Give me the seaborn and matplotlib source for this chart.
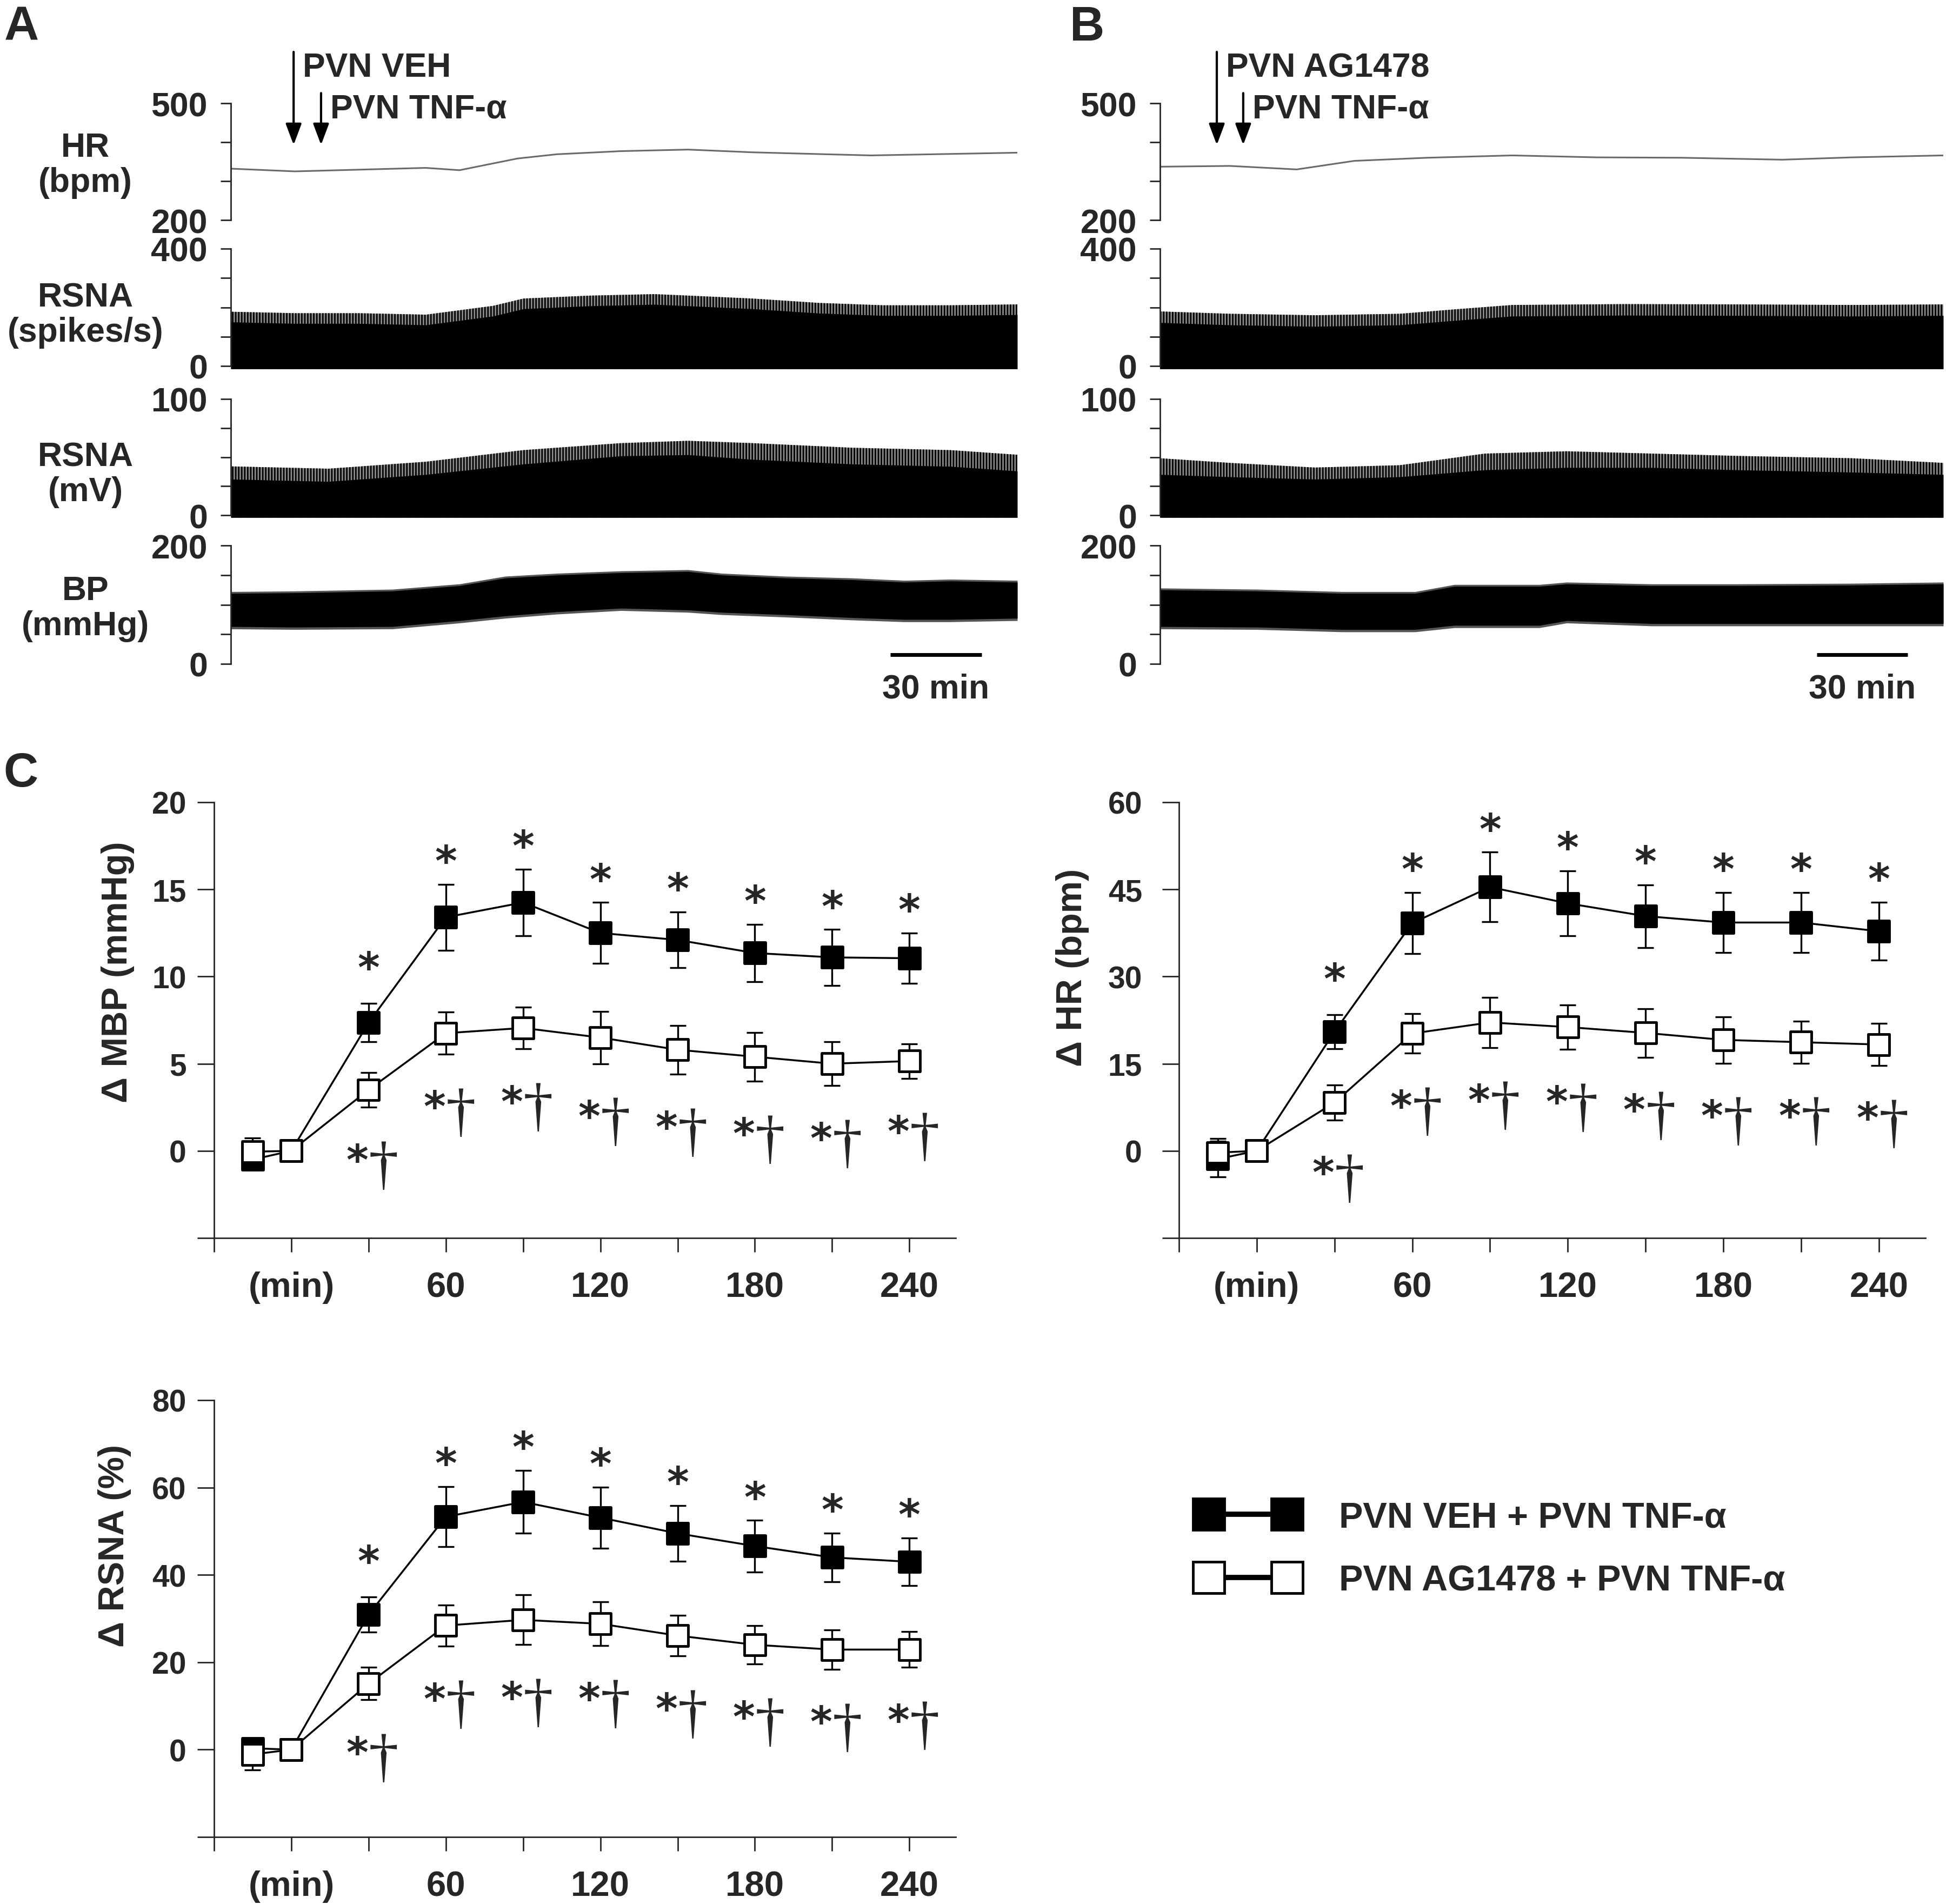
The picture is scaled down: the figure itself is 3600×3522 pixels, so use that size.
"""
PVN TNF-alpha: raw recordings (A, B) and group responses (C)
"""

import numpy as np
import pandas as pd
import seaborn as sns
import matplotlib.pyplot as plt
from matplotlib.lines import Line2D
from matplotlib.transforms import ScaledTranslation

# ------------------------------
# Panel A recording (PVN VEH -> PVN TNF-a)
# ------------------------------
a_hr_time = [0, 21, 64, 75, 94, 107, 128, 150, 171, 195, 210, 258]
a_hr = [332, 325, 334, 328, 358, 369, 377, 381, 374, 369, 366, 373]
a_rsna_time = [0, 21, 42, 64, 86, 96, 118, 139, 150, 171, 193, 214, 236, 258]
a_rsna_core = [150, 145, 145, 140, 170, 195, 205, 210, 205, 195, 180, 172, 172, 175]
a_rsna_peak = [185, 180, 180, 175, 205, 230, 240, 245, 240, 230, 215, 207, 207, 210]
a_mv_time = [0, 32, 64, 96, 128, 150, 171, 204, 236, 258]
a_mv_core = [31, 29, 35, 44, 51, 52, 48, 44, 42, 38]
a_mv_peak = [42, 40, 46, 56, 62, 64, 62, 58, 56, 52]
a_bp_time = [0, 21, 53, 75, 90, 107, 128, 150, 161, 182, 204, 221, 236, 258]
a_bp_high = [119, 120, 123, 132, 145, 150, 154, 156, 150, 145, 142, 138, 140, 138]
a_bp_low = [63, 62, 63, 73, 81, 88, 94, 91, 87, 83, 78, 75, 75, 77]
a_inject = [20.6, 29.6]
a_inject_labels = ["PVN VEH", "PVN TNF-α"]

# ------------------------------
# Panel B recording (PVN AG1478 -> PVN TNF-a)
# ------------------------------
b_hr_time = [0, 23, 45, 64, 88, 116, 144, 172, 205, 228, 258]
b_hr = [337, 339, 330, 352, 360, 366, 361, 360, 355, 361, 366]
b_rsna_time = [0, 23, 51, 79, 97, 116, 153, 190, 228, 258]
b_rsna_core = [148, 140, 135, 140, 155, 170, 173, 172, 170, 172]
b_rsna_peak = [186, 178, 173, 178, 193, 208, 211, 210, 208, 210]
b_mv_time = [0, 23, 51, 79, 107, 134, 162, 190, 228, 258]
b_mv_core = [35, 33, 31, 33, 39, 41, 41, 39, 37, 35]
b_mv_peak = [49, 45, 41, 43, 53, 55, 53, 51, 49, 45]
b_bp_time = [0, 32, 60, 84, 97, 125, 134, 162, 190, 228, 258]
b_bp_high = [125, 123, 119, 119, 131, 131, 135, 132, 132, 133, 135]
b_bp_low = [63, 62, 58, 58, 65, 65, 73, 68, 68, 68, 68]
b_inject = [18.7, 27.4]
b_inject_labels = ["PVN AG1478", "PVN TNF-α"]

# ------------------------------
# Panel C group data (mean, SEM)
# ------------------------------
minutes = [-15, 0, 30, 60, 90, 120, 150, 180, 210, 240]
groups = ["PVN VEH + PVN TNF-α", "PVN AG1478 + PVN TNF-α"]

mbp_veh = [-0.5, 0, 7.35, 13.4, 14.25, 12.5, 12.1, 11.35, 11.1, 11.05]
mbp_veh_err = [0.5, 0, 1.1, 1.9, 1.9, 1.75, 1.6, 1.65, 1.6, 1.45]
mbp_ag = [-0.05, 0, 3.5, 6.75, 7.05, 6.5, 5.8, 5.4, 5.0, 5.15]
mbp_ag_err = [0.8, 0, 1.0, 1.2, 1.2, 1.5, 1.4, 1.4, 1.25, 1.0]

hr_veh = [-1.4, 0, 20.5, 39.2, 45.4, 42.6, 40.4, 39.3, 39.3, 37.8]
hr_veh_err = [3.1, 0, 2.9, 5.3, 6.0, 5.6, 5.4, 5.2, 5.2, 5.0]
hr_ag = [-0.3, 0, 8.3, 20.2, 22.1, 21.3, 20.3, 19.1, 18.7, 18.3]
hr_ag_err = [2.4, 0, 3.0, 3.4, 4.3, 3.8, 4.2, 4.0, 3.6, 3.6]

rsna_veh = [0.3, 0, 30.9, 53.3, 56.7, 53.1, 49.5, 46.6, 44.0, 43.0]
rsna_veh_err = [1.0, 0, 4.0, 6.9, 7.2, 7.0, 6.4, 5.9, 5.6, 5.5]
rsna_ag = [-1.1, 0, 15.1, 28.4, 29.7, 28.8, 26.1, 24.0, 22.9, 22.9]
rsna_ag_err = [3.5, 0, 3.7, 4.7, 5.7, 5.0, 4.7, 4.4, 4.5, 4.1]

# ------------------------------
# Style / figure
# ------------------------------
sns.set_style("ticks")
plt.rcParams["font.family"] = ["Liberation Sans", "DejaVu Sans"]
plt.rcParams["font.weight"] = "bold"
plt.rcParams["axes.linewidth"] = 2
plt.rcParams["hatch.linewidth"] = 2.0
plt.rcParams["hatch.color"] = "black"

W, H = 3600, 3523
fig = plt.figure(figsize=(W / 100, H / 100), dpi=100)


def box(left, top, right, bottom):
    return [left / W, 1 - bottom / H, (right - left) / W, (bottom - top) / H]


def fy(y):
    return 1 - y / H


# ------------------------------
# Recording panels
# ------------------------------
def spiky_fill(ax, t, low, core, peak):
    # dense spikes above the solid core drawn as a vertical hatch
    ax.fill_between(t, low, peak, facecolor="#8a8a8a", edgecolor="black",
                    hatch="|||", lw=0, clip_on=False)
    ax.fill_between(t, low, core, color="black", lw=0, clip_on=False)


def trace_panel(x0, x1, hr_t, hr, rs_t, rs_core, rs_peak, mv_t, mv_core, mv_peak,
                bp_t, bp_hi, bp_lo, inject, inject_labels):
    rows = [(192, 408), (461, 678), (739, 954), (1010, 1229)]
    lims = [(200, 500), (0, 400), (0, 100), (0, 200)]
    steps = [100, 100, 25, 50]
    axes = []
    for (top, bottom), lim, step in zip(rows, lims, steps):
        ax = fig.add_axes(box(x0, top, x1, bottom))
        ax.set_xlim(0, 258)
        ax.set_ylim(lim)
        ticks = np.arange(lim[0], lim[1] + 1, step)
        ax.set_xticks([])
        ax.set_yticks(ticks)
        ax.set_yticklabels([str(v) if v in lim else "" for v in ticks])
        ax.tick_params(axis="y", length=14, width=2, pad=17, labelsize=45)
        sns.despine(ax=ax, bottom=True)
        ax.patch.set_alpha(0)
        axes.append(ax)

    sns.lineplot(x=hr_t, y=hr, ax=axes[0], color="#6a6a6a", lw=2.2)
    spiky_fill(axes[1], rs_t, -10, rs_core, rs_peak)
    spiky_fill(axes[2], mv_t, -2, mv_core, mv_peak)
    axes[3].fill_between(bp_t, np.array(bp_lo) - 4, np.array(bp_hi) + 3,
                         color="#555555", lw=0)
    axes[3].fill_between(bp_t, bp_lo, bp_hi, color="black", lw=0)
    for ax in axes:
        ax.set_xlabel("")
        ax.set_ylabel("")

    # injection arrows
    hr_ax = axes[0]
    tails = [632, 526]
    for t, tail, txt in zip(inject, tails, inject_labels):
        hr_ax.annotate("", xy=(t, 393), xytext=(t, tail),
                       arrowprops=dict(arrowstyle="-|>,head_length=1.2,head_width=0.45",
                                       color="black", lw=3, mutation_scale=20,
                                       shrinkA=0, shrinkB=0),
                       annotation_clip=False)
        hr_ax.text(t + 3, tail - 40, txt, fontsize=45, ha="left", va="center")

    # 30 min scale bar
    axes[3].plot([216.3, 246.3], [15.5, 15.5], color="black", lw=5,
                 solid_capstyle="butt", clip_on=False)
    axes[3].text(231.3, -42, "30 min", fontsize=45, ha="center", va="center")
    return axes


trace_panel(427, 1882, a_hr_time, a_hr, a_rsna_time, a_rsna_core, a_rsna_peak,
            a_mv_time, a_mv_core, a_mv_peak, a_bp_time, a_bp_high, a_bp_low,
            a_inject, a_inject_labels)
trace_panel(2146, 3595, b_hr_time, b_hr, b_rsna_time, b_rsna_core, b_rsna_peak,
            b_mv_time, b_mv_core, b_mv_peak, b_bp_time, b_bp_high, b_bp_low,
            b_inject, b_inject_labels)

trace_names = [("HR\n(bpm)", 306), ("RSNA\n(spikes/s)", 583),
               ("RSNA\n(mV)", 878), ("BP\n(mmHg)", 1126)]
for txt, y in trace_names:
    fig.text(158 / W, fy(y), txt, fontsize=45, ha="center", va="center",
             linespacing=1.12)


# ------------------------------
# Group response panels
# ------------------------------
def response_panel(rect, veh, veh_err, ag, ag_err, ymin, ymax, ystep, ylabel,
                   label_pos, ypad):
    ax = fig.add_axes(rect)
    n = len(minutes)
    df = pd.DataFrame({
        "time": minutes * 2,
        "value": veh + ag,
        "err": veh_err + ag_err,
        "group": [groups[0]] * n + [groups[1]] * n,
    })
    sns.lineplot(data=df, x="time", y="value", hue="group",
                 palette={groups[0]: "black", groups[1]: "black"},
                 estimator=None, lw=2.5, legend=False, ax=ax, zorder=2)
    for g in groups:
        sub = df[df["group"] == g]
        ax.errorbar(sub["time"], sub["value"], yerr=sub["err"], fmt="none",
                    ecolor="black", elinewidth=2.4, capsize=11, capthick=2.4,
                    zorder=3)
    sns.scatterplot(data=df, x="time", y="value", hue="group",
                    palette={groups[0]: "black", groups[1]: "white"},
                    marker="s", s=784, edgecolor="black", linewidth=3.5,
                    legend=False, ax=ax, zorder=4)

    # significance marks
    star = dict(textcoords="offset points", ha="center", va="baseline",
                fontsize=56, family="DejaVu Sans", fontweight="bold")
    for t, v, e in zip(minutes, veh, veh_err):
        if t < 30:
            continue
        rise = 29 if t == 30 else 12
        ax.annotate("*", (t, v + e), xytext=(0, rise), **star)
    for t, v, e in zip(minutes, ag, ag_err):
        if t < 30:
            continue
        ax.annotate("*", (t, v - e), xytext=(-15, -89), **star)
        ax.annotate("†", (t, v - e), xytext=(20, -100), textcoords="offset points",
                    ha="center", va="baseline", fontsize=80,
                    family="Liberation Serif", fontweight="normal")

    ax.set_xlim(-30, 258)
    ax.set_ylim(ymin, ymax)
    ax.set_xticks(list(range(-30, 241, 30)))
    ax.set_xticklabels(["", "(min)", "", "60", "", "120", "", "180", "", "240"])
    # the "(min)" caption sits a little left of the 0 tick
    lab = ax.get_xticklabels()[1]
    lab.set_transform(lab.get_transform() + ScaledTranslation(-0.19, 0, fig.dpi_scale_trans))
    yt = list(range(ymin, ymax + 1, ystep))
    ax.set_yticks(yt)
    ax.set_yticklabels(["" if v < 0 else str(v) for v in yt])
    ax.tick_params(axis="x", length=19, width=2, pad=25, labelsize=47)
    ax.tick_params(axis="y", length=22, width=2, pad=ypad, labelsize=41)
    sns.despine(ax=ax)
    ax.set_xlabel("")
    ax.set_ylabel("")
    ax.text(label_pos[0], label_pos[1], ylabel, transform=ax.transAxes,
            rotation=90, ha="center", va="center", fontsize=48)
    return ax


response_panel(box(396, 1485, 1768, 2291), mbp_veh, mbp_veh_err, mbp_ag, mbp_ag_err,
               -5, 20, 5, "Δ MBP (mmHg)", (-0.13, 0.612), 15)
response_panel(box(2181, 1485, 3562, 2291), hr_veh, hr_veh_err, hr_ag, hr_ag_err,
               -15, 60, 15, "Δ HR (bpm)", (-0.143, 0.622), 27)
response_panel(box(396, 2591, 1768, 3399), rsna_veh, rsna_veh_err, rsna_ag, rsna_ag_err,
               -20, 80, 20, "Δ RSNA (%)", (-0.134, 0.668), 15)

# ------------------------------
# Legend and panel letters
# ------------------------------
handles = [Line2D([], [], color="black", lw=7, marker="s", markersize=42,
                  markerfacecolor=fc, markeredgecolor="black", markeredgewidth=3.5)
           for fc in ["black", "white"]]
fig.legend(handles, groups, loc="center left", bbox_to_anchor=(2216 / W, fy(2867)),
           frameon=False, fontsize=48, numpoints=2, handlelength=2.78,
           handletextpad=1.14, labelspacing=0.82, borderpad=0, borderaxespad=0)

for letter, x, y in [("A", 40, 52), ("B", 2011, 52), ("C", 38, 1432)]:
    fig.text(x / W, fy(y), letter, fontsize=64, ha="center", va="center")

fig.savefig("out.png", dpi=100)
